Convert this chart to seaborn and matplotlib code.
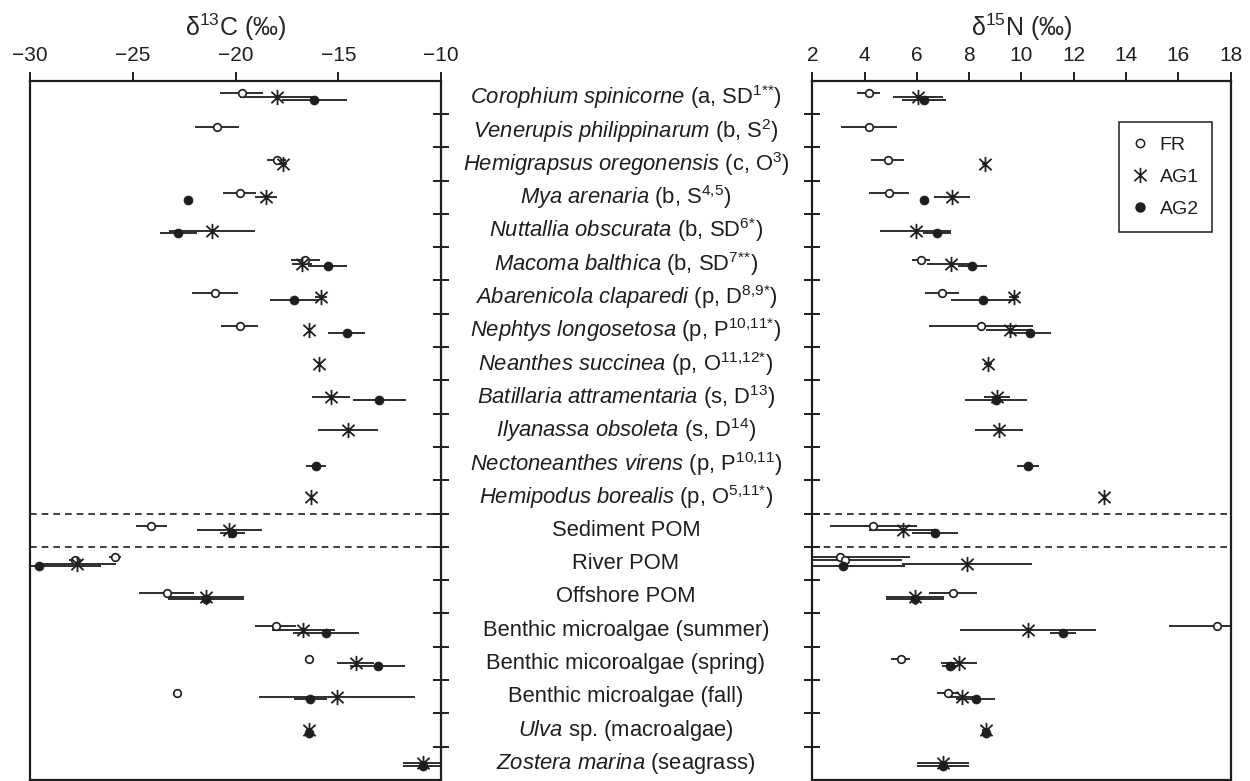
import numpy as np
import pandas as pd
import matplotlib
matplotlib.use("Agg")
import matplotlib.pyplot as plt
import matplotlib.transforms as mtransforms
from matplotlib.lines import Line2D
from matplotlib.path import Path
import seaborn as sns

nan = np.nan

# row labels, top to bottom (mathtext for the italic names and superscripts)
labels = [
    r"$\mathit{Corophium\ spinicorne}$ (a, SD$^{1{*}{*}}$)",
    r"$\mathit{Venerupis\ philippinarum}$ (b, S$^{2}$)",
    r"$\mathit{Hemigrapsus\ oregonensis}$ (c, O$^{3}$)",
    r"$\mathit{Mya\ arenaria}$ (b, S$^{4{,}5}$)",
    r"$\mathit{Nuttallia\ obscurata}$ (b, SD$^{6{*}}$)",
    r"$\mathit{Macoma\ balthica}$ (b, SD$^{7{*}{*}}$)",
    r"$\mathit{Abarenicola\ claparedi}$ (p, D$^{8{,}9{*}}$)",
    r"$\mathit{Nephtys\ longosetosa}$ (p, P$^{10{,}11{*}}$)",
    r"$\mathit{Neanthes\ succinea}$ (p, O$^{11{,}12{*}}$)",
    r"$\mathit{Batillaria\ attramentaria}$ (s, D$^{13}$)",
    r"$\mathit{Ilyanassa\ obsoleta}$ (s, D$^{14}$)",
    r"$\mathit{Nectoneanthes\ virens}$ (p, P$^{10{,}11}$)",
    r"$\mathit{Hemipodus\ borealis}$ (p, O$^{5{,}11{*}}$)",
    "Sediment POM",
    "River POM",
    "Offshore POM",
    "Benthic microalgae (summer)",
    "Benthic micoroalgae (spring)",
    "Benthic microalgae (fall)",
    r"$\mathit{Ulva}$ sp. (macroalgae)",
    r"$\mathit{Zostera\ marina}$ (seagrass)",
]

# d13C mean / sd per group
fr_c = [-19.7, -20.9, -18.0, -19.8, nan, -16.6, -21.0, -19.8, nan, nan, nan, nan, nan,
        -24.1, -27.8, -23.35, -18.05, -16.4, -22.85, nan, nan]
fr_c_sd = [1.05, 1.05, 0.45, 0.8, nan, 0.7, 1.1, 0.9, nan, nan, nan, nan, nan,
           0.75, 0.3, 1.33, 1.0, 0, 0, nan, nan]
ag1_c = [-17.96, nan, -17.7, -18.52, -21.16, -16.76, -15.84, -16.41, -15.92, -15.37, -14.51, nan, -16.33,
         -20.3, -27.73, -21.45, -16.7, -14.15, -15.08, -16.41, -10.89]
ag1_c_sd = [1.82, nan, 0.2, 0.53, 2.1, 0.5, 0.3, 0, 0, 0.93, 1.46, nan, 0,
            1.57, 1.9, 1.84, 1.54, 0.9, 3.8, 0.15, 0.95]
ag2_c = [-16.16, nan, nan, -22.3, -22.78, -15.51, -17.14, -14.59, nan, -13.0, nan, -16.08, nan,
         -20.16, -29.56, -21.45, -15.6, -13.08, -16.37, -16.41, -10.89]
ag2_c_sd = [1.57, nan, nan, 0, 0.9, 0.95, 1.2, 0.9, nan, 1.3, nan, 0.5, nan,
            0.6, 3.0, 1.84, 1.6, 1.33, 0.8, 0.15, 0.95]

# d15N mean / sd per group
fr_n = [4.17, 4.17, 4.88, 4.93, nan, 6.16, 6.97, 8.45, nan, nan, nan, nan, nan,
        4.33, 3.25, 7.39, 17.46, 5.38, 7.2, nan, nan]
fr_n_sd = [0.44, 1.06, 0.64, 0.76, nan, 0.35, 0.64, 2.0, nan, nan, nan, nan, nan,
           1.67, 2.17, 0.91, 1.8, 0.35, 0.42, nan, nan]
ag1_n = [6.05, nan, 8.6, 7.35, 5.95, 7.29, 9.72, 9.56, 8.71, 9.06, 9.14, nan, 13.15,
         5.46, 7.93, 5.93, 10.24, 7.61, 7.71, 8.64, 7.01]
ag1_n_sd = [0.95, nan, 0.1, 0.7, 1.36, 0.9, 0.2, 0.9, 0.15, 0.5, 0.92, nan, 0,
            1.3, 2.49, 1.1, 2.6, 0.68, 0.5, 0.15, 1.0]
ag2_n = [6.27, nan, nan, 6.27, 6.76, 8.12, 8.52, 10.33, nan, 9.03, nan, 10.26, nan,
         6.69, 3.19, 5.93, 11.58, 7.27, 8.25, 8.64, 7.01]
ag2_n_sd = [0.85, nan, nan, 0, 0.53, 0.56, 1.2, 0.8, nan, 1.2, nan, 0.42, nan,
            0.87, 2.36, 1.1, 0.5, 0.3, 0.74, 0.15, 1.0]

# second FR river sample (River POM has two open circles)
river2_row = 14
river2_c, river2_c_sd = -25.86, 0.3
river2_n, river2_n_sd = 3.06, 2.68

groups = ["FR", "AG1", "AG2"]
offsets = {"FR": -0.12, "AG1": 0.0, "AG2": 0.08, "FR2": -0.2}

frames = []
for g, c, csd, n, nsd in [("FR", fr_c, fr_c_sd, fr_n, fr_n_sd),
                          ("AG1", ag1_c, ag1_c_sd, ag1_n, ag1_n_sd),
                          ("AG2", ag2_c, ag2_c_sd, ag2_n, ag2_n_sd)]:
    frames.append(pd.DataFrame({"row": range(len(labels)), "group": g,
                                "c": c, "c_sd": csd, "n": n, "n_sd": nsd}))
frames.append(pd.DataFrame({"row": [river2_row], "group": "FR2", "c": [river2_c],
                            "c_sd": [river2_c_sd], "n": [river2_n], "n_sd": [river2_n_sd]}))
df = pd.concat(frames, ignore_index=True)
df["y"] = df["row"] + 0.5 + df["group"].map(offsets)

# asterisk marker: vertical bar plus a steep X
star = Path([(0, -1), (0, 1), (-0.8, -0.75), (0.8, 0.75), (-0.8, 0.75), (0.8, -0.75)],
            [Path.MOVETO, Path.LINETO, Path.MOVETO, Path.LINETO, Path.MOVETO, Path.LINETO])

ink = "#1e1e1e"
sns.set_style("ticks")
plt.rcParams["font.family"] = ["Liberation Sans", "DejaVu Sans"]
plt.rcParams["mathtext.fontset"] = "custom"
plt.rcParams["mathtext.rm"] = "Liberation Sans"
plt.rcParams["mathtext.it"] = "Liberation Sans:italic"
plt.rcParams["mathtext.default"] = "regular"
plt.rcParams["axes.edgecolor"] = ink
plt.rcParams["xtick.color"] = ink
plt.rcParams["ytick.color"] = ink
plt.rcParams["text.color"] = ink

fig = plt.figure(figsize=(12.5, 7.81), dpi=100)
axL = fig.add_axes([0.024, 0.0013, 0.3288, 0.8954])
axR = fig.add_axes([0.6498, 0.0013, 0.3347, 0.8954])

style = {
    "FR": dict(marker="o", s=30, color="white", edgecolor=ink, linewidth=1.2),
    "FR2": dict(marker="o", s=30, color="white", edgecolor=ink, linewidth=1.2),
    "AG1": dict(marker=star, s=120, color=ink, edgecolor=ink, linewidth=1.3),
    "AG2": dict(marker="o", s=42, color=ink, edgecolor=ink, linewidth=0.5),
}

for ax, var in [(axL, "c"), (axR, "n")]:
    for g in ["FR2", "FR", "AG1", "AG2"]:
        sub = df[(df["group"] == g) & df[var].notna()]
        ax.errorbar(sub[var], sub["y"], xerr=sub[var + "_sd"], fmt="none",
                    ecolor=ink, elinewidth=1.3, capsize=0, zorder=2)
    for g in ["FR2", "FR", "AG1", "AG2"]:
        sub = df[(df["group"] == g) & df[var].notna()]
        sns.scatterplot(data=sub, x=var, y="y", ax=ax, legend=False, zorder=3,
                        **style[g])
    ax.set_ylim(len(labels), 0)
    ax.set_yticks(range(1, len(labels)))
    ax.set_yticklabels([])
    ax.set_ylabel("")
    ax.xaxis.tick_top()
    ax.xaxis.set_label_position("top")
    ax.tick_params(axis="x", direction="out", length=6.5, width=1.4, labelsize=15, pad=4.5)
    ax.tick_params(axis="y", direction="inout", length=11, width=1.4)
    for sp in ax.spines.values():
        sp.set_visible(True)
        sp.set_linewidth(1.6)
    for b in (13, 14):
        ax.axhline(b, color=ink, lw=1.2, ls=(0, (4, 3)), zorder=1)

axL.set_xlim(-30, -10)
axL.set_xticks([-30, -25, -20, -15, -10])
axL.yaxis.tick_right()
axL.set_xlabel(r"δ$^{13}$C (‰)", fontsize=18)

axR.set_xlim(2, 18)
axR.set_xticks(range(2, 19, 2))
axR.yaxis.tick_left()
axR.set_xlabel(r"δ$^{15}$N (‰)", fontsize=18)

for ax in (axL, axR):
    ax.xaxis.set_label_coords(0.5, 1.064)

# species / source names between the two panels
trans = mtransforms.blended_transform_factory(fig.transFigure, axL.transData)
for i, lab in enumerate(labels):
    axL.text(0.5008, i + 0.5, lab, transform=trans, ha="center", va="center",
             fontsize=15.8, clip_on=False)

handles = [
    Line2D([], [], ls="none", marker="o", mfc="white", mec=ink, mew=1.1, ms=6),
    Line2D([], [], ls="none", marker=star, color=ink, mfc=ink, mec=ink, mew=1.2, ms=11),
    Line2D([], [], ls="none", marker="o", mfc=ink, mec=ink, ms=6.5),
]
leg = axR.legend(handles, groups, loc="upper right", bbox_to_anchor=(0.956, 0.9405),
                 frameon=True, fancybox=False, framealpha=1, edgecolor=ink,
                 fontsize=14, labelspacing=0.75, handlelength=0.8,
                 handletextpad=0.6, borderpad=0.7, borderaxespad=0)
leg.get_frame().set_linewidth(1.1)

fig.savefig("out.png", dpi=100)
